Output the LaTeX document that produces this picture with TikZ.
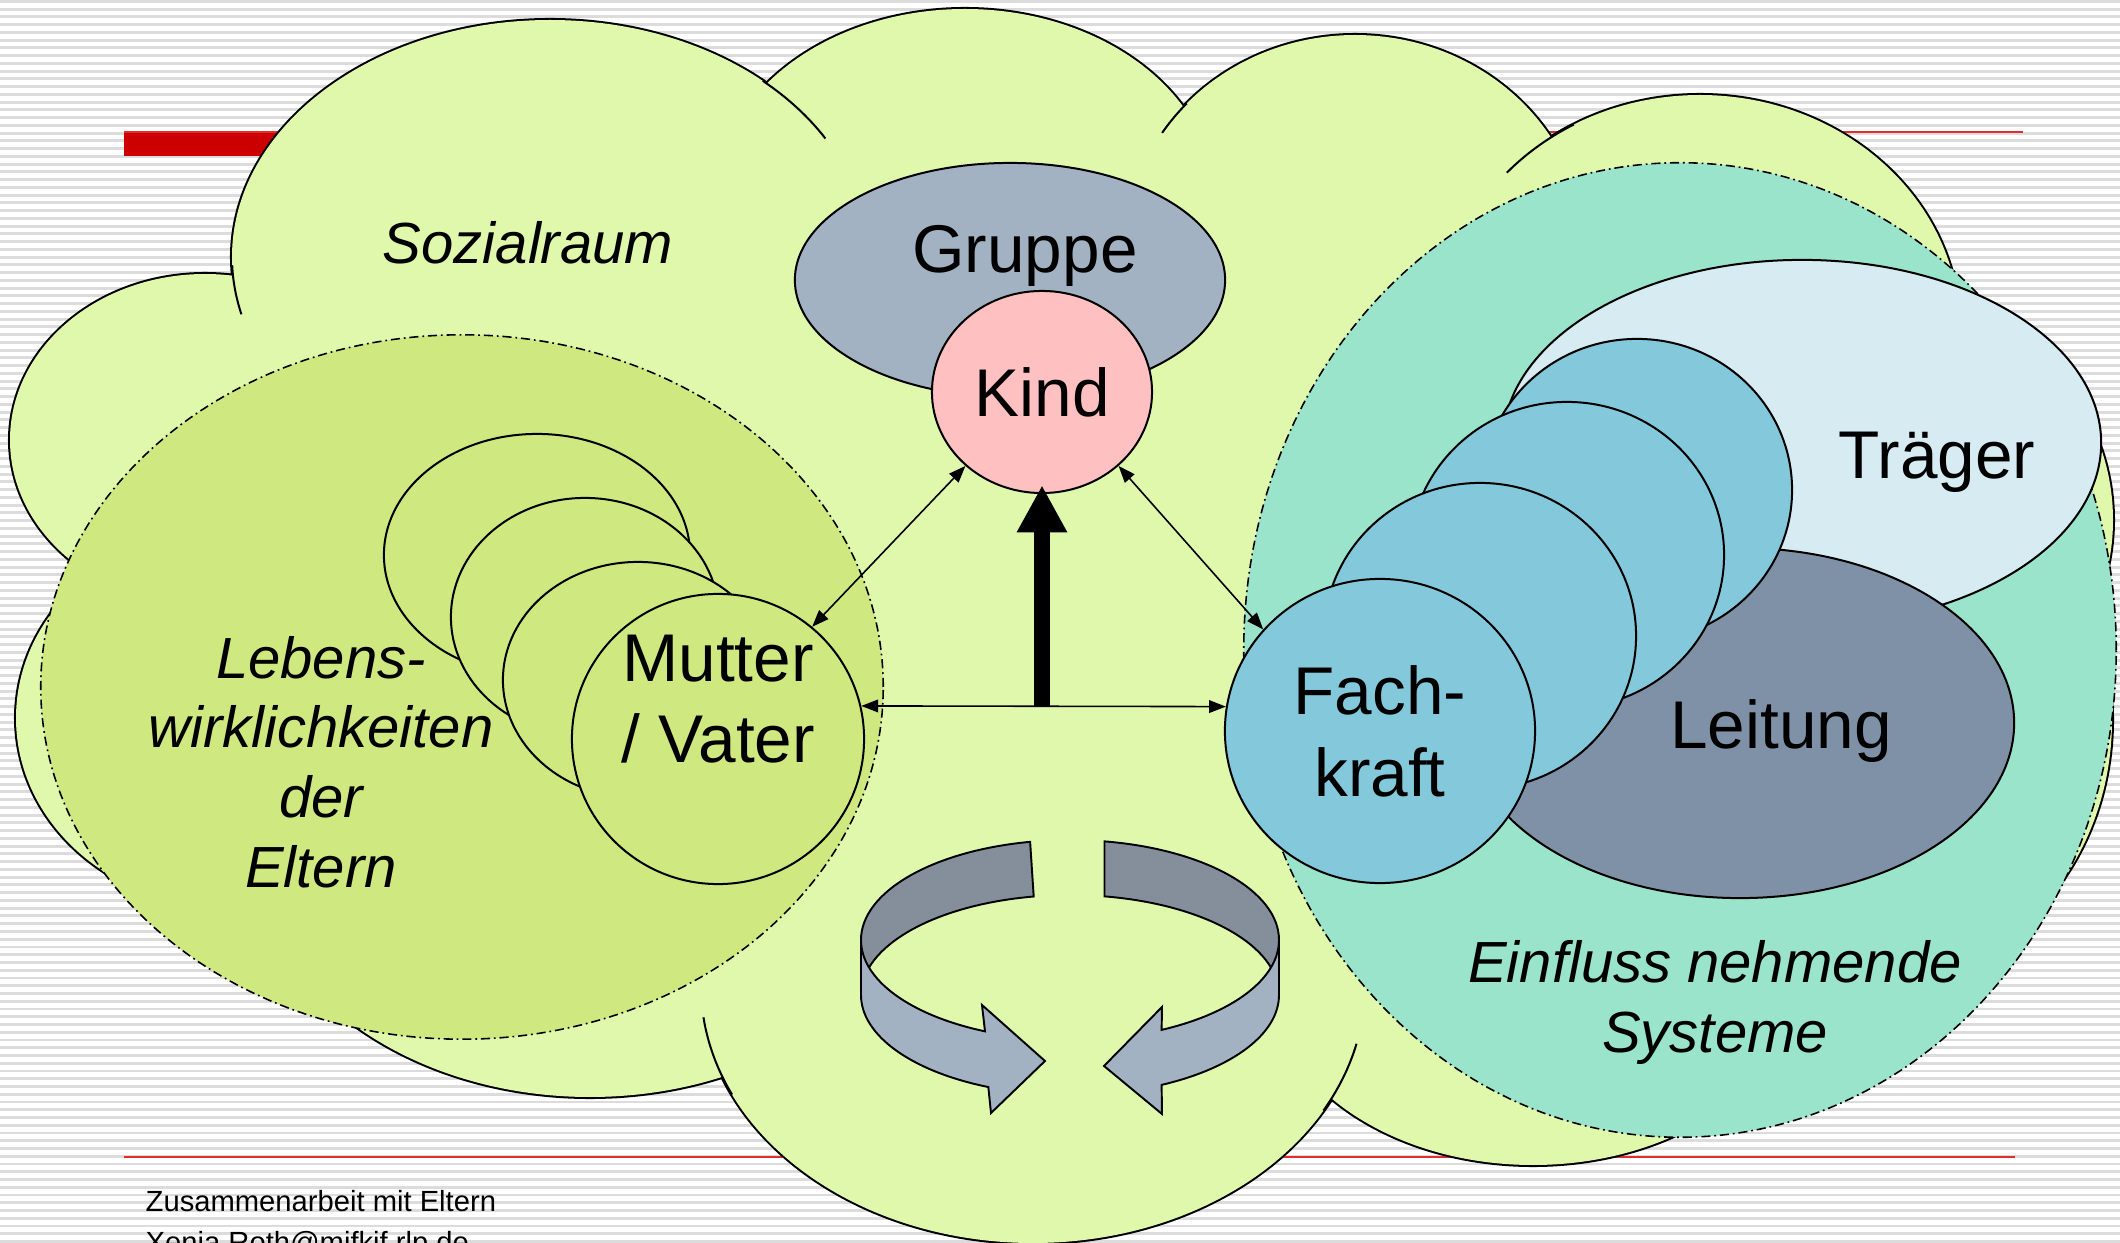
\documentclass[tikz,border=0pt]{standalone}
\usepackage{fontspec}
\setmainfont{Liberation Sans}
\usetikzlibrary{shapes.geometric,arrows.meta,positioning}
\definecolor{cloudgreen}{RGB}{223,248,172}
\definecolor{lifegreen}{RGB}{208,232,128}
\definecolor{sysgreen}{RGB}{153,228,203}
\definecolor{groupgray}{RGB}{163,178,194}
\definecolor{childpink}{RGB}{255,192,193}
\definecolor{staffblue}{RGB}{132,200,220}
\definecolor{bodyblue}{RGB}{214,236,242}
\definecolor{leadgray}{RGB}{127,145,167}
\definecolor{ringdark}{RGB}{133,143,155}
\definecolor{stripegray}{RGB}{220,220,220}
\definecolor{barred}{RGB}{204,0,0}
\definecolor{linered}{RGB}{225,45,45}
\newcommand{\cloudbumps}[1]{\path[#1] (550,257) ellipse [x radius=318, y radius=237]
					(965,200) ellipse [x radius=250, y radius=191]
					(1355,250) ellipse [x radius=230, y radius=215]
					(1700,330) ellipse [x radius=260, y radius=235]
					(1870,520) ellipse [x radius=243, y radius=230]
					(1880,720) ellipse [x radius=232, y radius=260]
					(1533,975) ellipse [x radius=265, y radius=190]
					(1033,986) ellipse [x radius=332, y radius=257]
					(590,840) ellipse [x radius=340, y radius=257]
					(230,718) ellipse [x radius=214, y radius=190]
					(205,440) ellipse [x radius=195, y radius=166];}
\newcommand{\bumpedge}[6]{\draw[cloudline] ({#1+#3*cos(#5)},{#2+#4*sin(#5)}) arc [start angle=#5, end angle=#6, x radius=#3, y radius=#4];}
\tikzset{cloudline/.style={line width=0.57pt},
		blob/.style={ellipse, draw, line width=0.57pt, inner sep=0pt},
		zone/.style={ellipse, draw, line width=0.45pt, inner sep=0pt, dash pattern=on 2.6pt off 1.1pt on 0.5pt off 1.1pt},
		lbl/.style={font=\fontsize{19.2}{23.3}\selectfont, align=center, inner sep=0pt},
		itlbl/.style={font=\fontsize{16.5}{19.8}\selectfont\itshape, align=center, inner sep=0pt},
		link/.style={{Triangle[length=4.8pt,width=3.6pt]}-{Triangle[length=4.8pt,width=3.6pt]}, line width=0.45pt},
		push/.style={-{Triangle[length=13.4pt,width=13.4pt]}, line width=4.5pt},
		ringback/.style={fill=ringdark, draw, line width=0.55pt},
		ringfront/.style={fill=groupgray, draw, line width=0.55pt}}

\begin{document}
\begin{tikzpicture}[x=0.01cm, y=-0.01cm]
	\useasboundingbox (0,0) rectangle (2120,1243);
	\clip (0,0) rectangle (2120,1243);
	\fill[white] (0,0) rectangle (2120,1243);
	\foreach \i in {0,...,160}
		\fill[stripegray] (0,{\i*7.75}) rectangle (2120,{\i*7.75+2.8});
	\fill[barred] (124,131) rectangle (700,156);
	\draw[linered, line width=0.7pt] (124,132) -- (2023,132);
	\draw[linered, line width=0.55pt] (124,1157) -- (2015,1157);

	\cloudbumps{draw, line width=1.15pt}
	\cloudbumps{fill=cloudgreen}
	\fill[cloudgreen] (550,257) -- (965,200) -- (1355,250) -- (1700,330) -- (1870,520) -- (1880,720)
		-- (1533,975) -- (1033,986) -- (590,840) -- (230,718) -- (205,440) -- cycle;
	\bumpedge{550}{257}{318}{237}{178}{166}
	\bumpedge{550}{257}{318}{237}{312}{330}
	\bumpedge{1355}{250}{230}{215}{223}{213}
	\bumpedge{1700}{330}{260}{235}{241}{222}
	\bumpedge{1033}{986}{332}{257}{155}{173}
	\bumpedge{1033}{986}{332}{257}{29}{13}
	\node[itlbl, anchor=base] (sozial) at (528,264) {Sozialraum};

	\node[zone, fill=lifegreen, minimum width=8.42cm, minimum height=7.04cm] (lebens) at (462,687) {};
	\node[blob, fill=lifegreen, minimum width=3.06cm, minimum height=2.42cm] (eltern3) at (537,555) {};
	\node[blob, fill=lifegreen, minimum width=2.68cm, minimum height=2.38cm] (eltern2) at (585,617) {};
	\node[blob, fill=lifegreen, minimum width=2.70cm, minimum height=2.36cm] (eltern1) at (638,680) {};
	\node[blob, fill=lifegreen, minimum width=2.92cm, minimum height=2.90cm] (mutter) at (718,739) {};
	\node[itlbl, anchor=base] (lebenstxt) at (321,887) {Lebens-\\wirklichkeiten\\der\\Eltern};
	\node[lbl, anchor=base] (muttertxt) at (718,763) {Mutter\\/ Vater};

	\node[blob, fill=groupgray, minimum width=4.30cm, minimum height=2.34cm] (gruppe) at (1010,280) {};
	\node[lbl, anchor=base] (gruppetxt) at (1025,273) {Gruppe};
	\node[blob, lbl, fill=childpink, minimum width=2.20cm, minimum height=2.02cm] (kind) at (1042,392) {Kind};

	\node[zone, fill=sysgreen, minimum width=8.72cm, minimum height=9.74cm] (systeme) at (1680,650) {};
	\node[itlbl, anchor=base] (systemetxt) at (1715,1052) {Einfluss nehmende\\Systeme};
	\node[blob, fill=bodyblue, minimum width=5.98cm, minimum height=3.66cm] (traeger) at (1802,443) {};
	\node[lbl, anchor=base] (traegertxt) at (1937,479) {Träger};
	\node[blob, fill=leadgray, minimum width=5.48cm, minimum height=3.50cm] (leitung) at (1740,723) {};
	\node[lbl, anchor=base] (leitungtxt) at (1781,749) {Leitung};
	\node[blob, fill=staffblue, minimum width=3.10cm, minimum height=3.02cm] (fach3) at (1637,490) {};
	\node[blob, fill=staffblue, minimum width=3.14cm, minimum height=3.06cm] (fach2) at (1567,555) {};
	\node[blob, fill=staffblue, minimum width=3.12cm, minimum height=3.06cm] (fach1) at (1480,636) {};
	\node[blob, lbl, fill=staffblue, minimum width=3.10cm, minimum height=3.04cm] (fach) at (1380,731) {Fach-\\kraft};

	\draw[link] (kind.224) -- (mutter.50);
	\draw[link] (kind.316) -- (fach.139);
	\draw[link] (mutter.13) -- (fach.171);
	\coordinate (hub) at (kind.south |- mutter.13);
	\draw[push, shorten >=-2.5pt] (hub) -- (kind.south);

	\filldraw[ringback] ({1070+209*cos(259)},{940+100*sin(259)}) arc [start angle=259, end angle=180, x radius=209, y radius=100]
		-- ++(0,55) arc [start angle=180, end angle=260, x radius=209, y radius=100] -- cycle;
	\filldraw[ringfront] (861,940) arc [start angle=180, end angle=114, x radius=209, y radius=100]
		-- (982,1005) -- (1045,1061) -- (991,1113)
		-- ({1070+209*cos(113)},{995+100*sin(113)}) arc [start angle=113, end angle=180, x radius=209, y radius=100] -- cycle;
	\filldraw[ringback] ({1070+209*cos(279.5)},{940+100*sin(279.5)}) arc [start angle=279.5, end angle=360, x radius=209, y radius=100]
		-- ++(0,55) arc [start angle=0, end angle=-80.5, x radius=209, y radius=100] -- cycle;
	\filldraw[ringfront] (1279,940) arc [start angle=0, end angle=64, x radius=209, y radius=100]
		-- (1162,1007) -- (1104,1066) -- (1162,1114)
		-- ({1070+209*cos(64)},{995+100*sin(64)}) arc [start angle=64, end angle=0, x radius=209, y radius=100] -- cycle;

	\node[font=\fontsize{8.3}{11.4}\selectfont, align=left, anchor=base west, inner sep=0pt] (footer) at (145,1252) {Zusammenarbeit mit Eltern\\Xenia.Roth@mifkif.rlp.de};
\end{tikzpicture}
\end{document}
